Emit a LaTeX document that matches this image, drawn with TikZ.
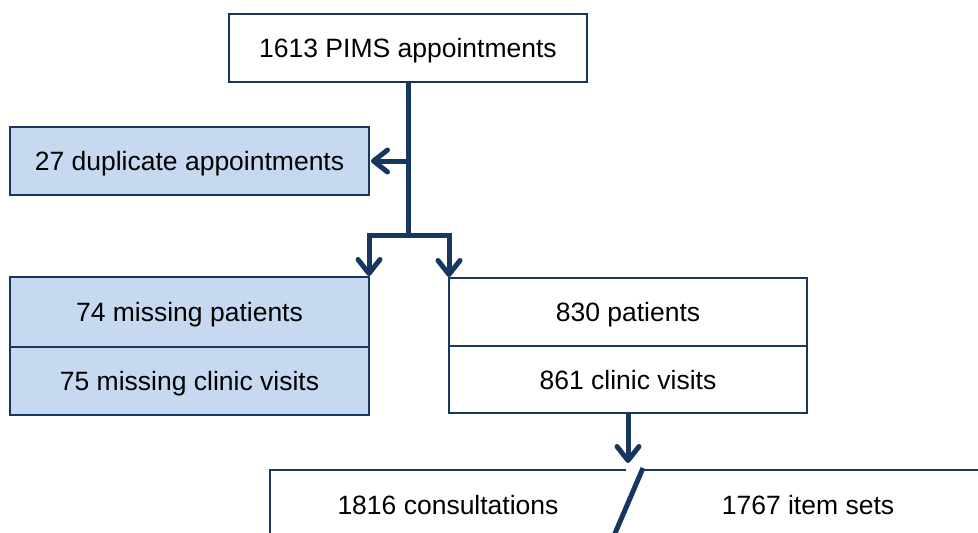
\documentclass[tikz,border=0pt]{standalone}
\usepackage{fontspec}
\setmainfont{Liberation Sans}
\usetikzlibrary{arrows.meta}
\definecolor{navy}{RGB}{23,55,94}
\definecolor{paleblue}{RGB}{198,217,241}
\tikzset{
  label text/.style={font=\fontsize{26.5}{30}\selectfont, text height=19pt, text depth=0pt},
  box/.style={draw=navy, line width=2pt, minimum width=358pt, minimum height=68pt,
    inner sep=0pt, label text},
  shaded/.style={box, fill=paleblue},
  conn/.style={draw=navy, line width=5pt},
  arr/.style={conn, -{Straight Barb[length=14pt,width=22pt,line cap=round,line join=round]}},
}
\begin{document}
\begin{tikzpicture}[x=1pt,y=-1pt]
  \useasboundingbox (0,0) rectangle (978,533);
  \clip (0,0) rectangle (978,533);

  % source and exclusions
  \node[box] (top) at (408,48) {1613 PIMS appointments};
  \node[shaded, minimum width=359pt] (dup) at (189.5,161) {27 duplicate appointments};
  \node[shaded, minimum width=359pt, minimum height=70pt] (missp) at (189.5,312) {74 missing patients};
  \node[shaded, minimum width=359pt] (missv) at (189.5,381) {75 missing clinic visits};

  % retained records
  \node[box] (pat) at (628,312) {830 patients};
  \node[box, minimum height=67pt] (vis) at (628,379.5) {861 clinic visits};

  % split table of consultations and item sets
  \draw[navy, line width=2pt] (1000,470) -- (270,470) -- (270,560);
  \node[label text, inner sep=0pt] (cons) at (448,505) {1816 consultations};
  \node[label text, inner sep=0pt] (items) at (808,505) {1767 item sets};
  \draw[white, line width=5pt] (626,470) -- (640,470);
  \draw[navy, line width=5pt] (643,468) -- (598,573);

  % flow connectors
  \coordinate (split) at (408,235);
  \coordinate (side) at (408,161);
  \draw[conn] (top.south) -- (split);
  \draw[arr] (side) -- ([xshift=1pt]dup.east);
  \draw[arr, line join=miter] (split) -| ([xshift=-1pt]missp.north east);
  \draw[arr, line join=miter] (split) -| ([xshift=1pt]pat.north west);
  \coordinate (tablehead) at (628,463);
  \draw[arr] (vis.south) -- (tablehead);
\end{tikzpicture}
\end{document}
